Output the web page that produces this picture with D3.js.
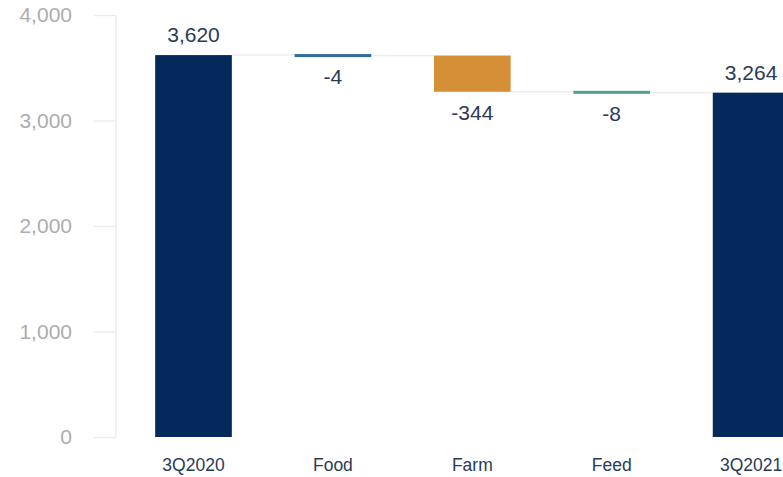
<!DOCTYPE html>
<html><head><meta charset="utf-8">
<script src="https://cdn.jsdelivr.net/npm/d3@7"></script>
<style>html,body{margin:0;padding:0;background:#fff;overflow:hidden}</style>
</head><body>
<svg id="c" width="783" height="477"></svg>
<script>
const categories = ["3Q2020","Food","Farm","Feed","3Q2021"];
const values = [3620,-4,-344,-8,3264];
const kinds = ["total","delta","delta","delta","total"];
const barColors = ["#032a5a","#2f6aa1","#d58f36","#4ca190","#032a5a"];
const yTicks = [0,1000,2000,3000,4000];

const svg = d3.select("#c");
const font = "'Liberation Sans', Arial, Helvetica, sans-serif";
const fmt = v => d3.format(",")(v).replace("\u2212","-");

const x = d3.scaleBand().domain(categories).range([123.8, 820.8]).paddingInner(0.45).paddingOuter(0.225);
const y = d3.scaleLinear().domain([0,4000]).range([437,15]);

// compute waterfall segments
let running = 0;
const segs = categories.map((c,i)=>{
  let s,e;
  if(kinds[i]==="total"){ s=0; e=values[i]; running=values[i]; }
  else { s=running; e=running+values[i]; running=e; }
  return {c, v:values[i], kind:kinds[i], lo:Math.min(s,e), hi:Math.max(s,e), end:running, color:barColors[i]};
});

// axis
const axis = d3.axisLeft(y).tickValues(yTicks).tickSize(22).tickPadding(22).tickFormat(d3.format(","));
const ag = svg.append("g").attr("transform","translate(116,0)").call(axis);
ag.select(".domain").attr("stroke","#ececec").attr("stroke-width",1.5).attr("d","M0,15V437");
ag.selectAll(".tick line").attr("stroke","#ececec").attr("stroke-width",1.5);
ag.selectAll(".tick text").attr("fill","#adadad").style("font-family",font).style("font-size","21px");

// connectors
for(let i=0;i<segs.length-1;i++){
  svg.append("line")
    .attr("x1", x(segs[i].c)+x.bandwidth()).attr("x2", x(segs[i+1].c))
    .attr("y1", y(segs[i].end)).attr("y2", y(segs[i].end))
    .attr("stroke","#ececec").attr("stroke-width",1.5);
}

// bars
svg.selectAll("rect.bar").data(segs).enter().append("rect")
  .attr("class","bar")
  .attr("x", d=>x(d.c))
  .attr("width", x.bandwidth())
  .attr("y", d=>{ const h=y(d.lo)-y(d.hi); return h<3 ? y(d.hi)-1 : y(d.hi); })
  .attr("height", d=>Math.max(3, y(d.lo)-y(d.hi)))
  .attr("fill", d=>d.color);

// value labels
svg.selectAll("text.val").data(segs).enter().append("text")
  .attr("class","val")
  .attr("x", d=>x(d.c)+x.bandwidth()/2)
  .attr("y", d=> d.kind==="total" ? y(d.hi)-13 : y(d.lo)+28)
  .attr("text-anchor","middle")
  .attr("fill","#2b3a57")
  .style("font-family",font).style("font-size","21px")
  .text(d=> fmt(d.v));

// category labels
svg.selectAll("text.cat").data(segs).enter().append("text")
  .attr("class","cat")
  .attr("x", d=>x(d.c)+x.bandwidth()/2)
  .attr("y", 471)
  .attr("text-anchor","middle")
  .attr("fill","#2b3a57")
  .style("font-family",font).style("font-size","17.5px")
  .text(d=>d.c);
</script>
</body></html>
